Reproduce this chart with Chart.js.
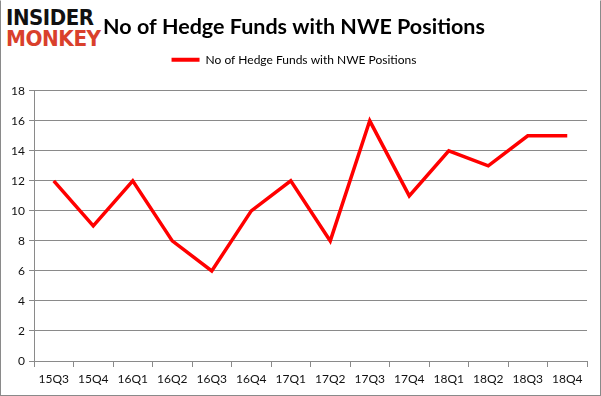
<!DOCTYPE html>
<html>
<head>
<meta charset="utf-8">
<script src="https://cdn.jsdelivr.net/npm/chart.js@4"></script>
<style>
  html, body { margin: 0; padding: 0; background: #fff; }
  #wrap { position: relative; width: 601px; height: 396px; box-sizing: border-box; border: 1px solid #8a8a8a; border-top-color: #fff; }
  #chart { position: absolute; left: 0; top: 0; }
  #logo { position: absolute; left: 0; top: 0; width: 102px; height: 50px; background: #fff; font-family: "DejaVu Sans", sans-serif; font-weight: bold; overflow: hidden; }
  #logo .a { position: absolute; left: 5px; top: 4px; font-size: 22px; letter-spacing: -0.5px; color: #111; transform: scaleX(0.9); transform-origin: left; }
  #logo .b { position: absolute; left: 5px; top: 25px; font-size: 22px; letter-spacing: -0.5px; color: #d9402c; transform: scaleX(0.91); transform-origin: left; }
</style>
</head>
<body>
<div id="wrap">
  <canvas id="chart" width="601" height="396"></canvas>
  <div id="logo"><span class="a">INSIDER</span><span class="b">MONKEY</span></div>
</div>
<script>
// DATA
const quarters = ["15Q3", "15Q4", "16Q1", "16Q2", "16Q3", "16Q4", "17Q1", "17Q2", "17Q3", "17Q4", "18Q1", "18Q2", "18Q3", "18Q4"];
const hedgeFunds = [12, 9, 12, 8, 6, 10, 12, 8, 16, 11, 14, 13, 15, 15];
const yTicks = [0, 2, 4, 6, 8, 10, 12, 14, 16, 18];

const seriesName = "No of Hedge Funds with NWE Positions";
const FONT = "Lato, 'Open Sans', sans-serif";
const GRID = "#8a8a8a";

Chart.defaults.font.family = FONT;
Chart.defaults.color = "#111";

new Chart(document.getElementById("chart"), {
  type: "line",
  data: {
    labels: quarters,
    datasets: [{
      label: seriesName,
      data: hedgeFunds,
      borderColor: "#ff0000",
      backgroundColor: "#ff0000",
      borderWidth: 3.5,
      pointRadius: 0,
      tension: 0
    }]
  },
  options: {
    responsive: false,
    animation: false,
    layout: { padding: { left: 0, right: 15, top: 0, bottom: 0 } },
    plugins: {
      title: {
        display: true,
        text: seriesName,
        font: { size: 21.5, weight: "bold" },
        color: "#000",
        padding: { top: 13, bottom: 8 }
      },
      legend: {
        display: true,
        labels: {
          boxWidth: 28,
          boxHeight: 4,
          font: { size: 12 },
          color: "#111",
          padding: 6,
          generateLabels: chart => [{
            text: seriesName,
            fillStyle: "#ff0000",
            strokeStyle: "#ff0000",
            lineWidth: 0,
            datasetIndex: 0
          }]
        }
      },
      tooltip: { enabled: false }
    },
    scales: {
      x: {
        offset: true,
        grid: { drawOnChartArea: false, drawTicks: true, tickLength: 6, color: GRID, offset: true },
        border: { display: true, color: GRID },
        ticks: { font: { size: 12 }, color: "#111", maxRotation: 0, padding: 5 },
        afterFit: axis => { axis.height = 36; }
      },
      y: {
        min: 0,
        max: 18,
        afterBuildTicks: axis => { axis.ticks = yTicks.map(v => ({ value: v })); },
        grid: { color: GRID, drawTicks: true, tickLength: 5 },
        border: { display: true, color: GRID },
        ticks: { font: { size: 12 }, color: "#111", padding: 4 },
        afterFit: axis => { axis.width = 33; }
      }
    }
  },
  plugins: [{
    id: "legendHeight",
    beforeInit(chart) {
      const fit = chart.legend.fit;
      chart.legend.fit = function () {
        fit.bind(chart.legend)();
        this.height = 43;
      };
    }
  }]
});
</script>
</body>
</html>
